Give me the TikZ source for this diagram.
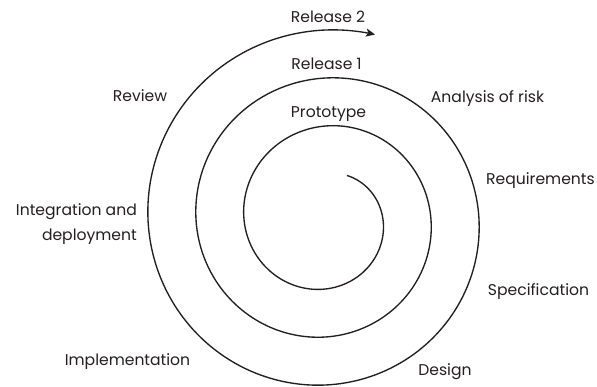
\documentclass[tikz,border=0pt]{standalone}
\usepackage{fontspec}
\setmainfont{Poppins}
\usetikzlibrary{arrows.meta}
\definecolor{ink}{RGB}{35,31,32}
\begin{document}
\begin{tikzpicture}[x=1pt,y=1pt,
  lbl/.style={text=ink,inner sep=0pt,font=\fontsize{15.6}{25}\selectfont,anchor=base},
  spiral/.style={draw=ink,line width=1.35pt,-{Stealth[length=9pt,width=8pt,inset=2pt]}}]
\useasboundingbox (0,0) rectangle (597,386);
\draw[spiral] plot[domain=64:-1005,samples=500,smooth,variable=\t]
  ({325.5+(57.5-48*\t/360)*cos(\t)},{166.5+(57.5-48*\t/360)*sin(\t)});
\node[lbl] (rel2) at (328,363) {Release 2};
\node[lbl] (rel1) at (326.5,316) {Release 1};
\node[lbl] (proto) at (328.5,268) {Prototype};
\node[lbl] (risk) at (487.5,283) {Analysis of risk};
\node[lbl] (req) at (540.5,201) {Requirements};
\node[lbl] (spec) at (538.5,91) {Specification};
\node[lbl] (design) at (445,11) {Design};
\node[lbl] (impl) at (127.5,21) {Implementation};
\node[lbl,anchor=base east,align=right] (integ) at (137,146) {Integration and\\deployment};
\node[lbl] (review) at (140,284) {Review};
\end{tikzpicture}
\end{document}
